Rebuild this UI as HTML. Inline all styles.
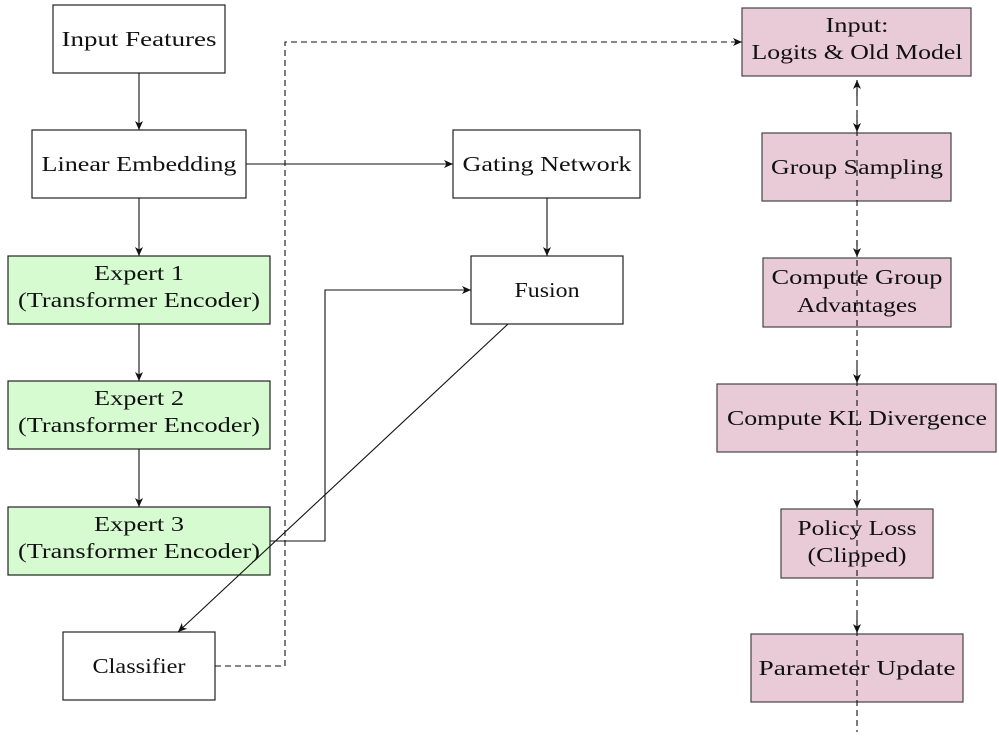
<!DOCTYPE html>
<html><head><style>
body{margin:0;background:#fff;}
svg text{font-family:"Liberation Serif",serif;font-size:21px;fill:#111;text-anchor:middle;}
</style></head><body>
<svg width="999" height="732" viewBox="0 0 999 732" xmlns="http://www.w3.org/2000/svg">
<defs>
<marker id="a" markerWidth="12" markerHeight="12" refX="10" refY="6" orient="auto" markerUnits="userSpaceOnUse">
<path d="M1,2 L10,6 L1,10 L3.5,6 Z" fill="#111"/></marker>
</defs>
<g stroke="#222" stroke-width="1.2" fill="#fff">
<rect x="53" y="5" width="172" height="68"/>
<rect x="32" y="130" width="214" height="68"/>
<rect x="8" y="256" width="262" height="68" fill="#d6fbd0"/>
<rect x="8" y="381" width="262" height="68" fill="#d6fbd0"/>
<rect x="8" y="507" width="262" height="68" fill="#d6fbd0"/>
<rect x="63" y="632" width="152" height="68"/>
<rect x="453" y="130" width="187" height="68"/>
<rect x="471" y="256" width="152" height="68"/>
<g fill="#e8cbd7" stroke="#444">
<rect x="742" y="8" width="229" height="68"/>
<rect x="762" y="133" width="189" height="68"/>
<rect x="763" y="258" width="188" height="69"/>
<rect x="717" y="384" width="279" height="68"/>
<rect x="781" y="509" width="152" height="69"/>
<rect x="751" y="634" width="212" height="68"/>
</g>
</g>
<g stroke="#111" stroke-width="1.1" fill="none">
<line x1="139" y1="73" x2="139" y2="130" marker-end="url(#a)"/>
<line x1="139" y1="198" x2="139" y2="256" marker-end="url(#a)"/>
<line x1="139" y1="324" x2="139" y2="381" marker-end="url(#a)"/>
<line x1="139" y1="449" x2="139" y2="507" marker-end="url(#a)"/>
<line x1="246" y1="164" x2="453" y2="164" marker-end="url(#a)"/>
<line x1="547" y1="198" x2="547" y2="256" marker-end="url(#a)"/>
<polyline points="270,541 325,541 325,290 471,290" marker-end="url(#a)"/>
<line x1="508" y1="324" x2="178" y2="632" marker-end="url(#a)"/>
<polyline points="215,666 285,666 285,42 742,42" stroke-dasharray="6,4" marker-end="url(#a)"/>
<line x1="857" y1="80" x2="857" y2="732" stroke-dasharray="6,4"/>
<line x1="857" y1="100" x2="857" y2="80" marker-end="url(#a)"/>
<line x1="857" y1="115" x2="857" y2="132" marker-end="url(#a)"/>
<line x1="857" y1="240" x2="857" y2="257" marker-end="url(#a)"/>
<line x1="857" y1="366" x2="857" y2="383" marker-end="url(#a)"/>
<line x1="857" y1="491" x2="857" y2="508" marker-end="url(#a)"/>
<line x1="857" y1="616" x2="857" y2="633" marker-end="url(#a)"/>
</g>
<g lengthAdjust="spacingAndGlyphs">
<text x="139" y="46" textLength="155" lengthAdjust="spacingAndGlyphs">Input Features</text>
<text x="139" y="171" textLength="195" lengthAdjust="spacingAndGlyphs">Linear Embedding</text>
<text x="139" y="280" textLength="90" lengthAdjust="spacingAndGlyphs">Expert 1</text><text x="139" y="307" textLength="242" lengthAdjust="spacingAndGlyphs">(Transformer Encoder)</text>
<text x="139" y="405" textLength="90" lengthAdjust="spacingAndGlyphs">Expert 2</text><text x="139" y="432" textLength="242" lengthAdjust="spacingAndGlyphs">(Transformer Encoder)</text>
<text x="139" y="531" textLength="90" lengthAdjust="spacingAndGlyphs">Expert 3</text><text x="139" y="558" textLength="242" lengthAdjust="spacingAndGlyphs">(Transformer Encoder)</text>
<text x="139" y="673" textLength="93" lengthAdjust="spacingAndGlyphs">Classifier</text>
<text x="547" y="171" textLength="169" lengthAdjust="spacingAndGlyphs">Gating Network</text>
<text x="547" y="297" textLength="65" lengthAdjust="spacingAndGlyphs">Fusion</text>
<text x="857" y="32" textLength="63" lengthAdjust="spacingAndGlyphs">Input:</text><text x="857" y="59" textLength="211" lengthAdjust="spacingAndGlyphs">Logits &amp; Old Model</text>
<text x="857" y="174" textLength="172" lengthAdjust="spacingAndGlyphs">Group Sampling</text>
<text x="857" y="284" textLength="171" lengthAdjust="spacingAndGlyphs">Compute Group</text><text x="857" y="312" textLength="120" lengthAdjust="spacingAndGlyphs">Advantages</text>
<text x="857" y="425" textLength="260" lengthAdjust="spacingAndGlyphs">Compute KL Divergence</text>
<text x="857" y="535" textLength="119" lengthAdjust="spacingAndGlyphs">Policy Loss</text><text x="857" y="562" textLength="99" lengthAdjust="spacingAndGlyphs">(Clipped)</text>
<text x="857" y="675" textLength="197" lengthAdjust="spacingAndGlyphs">Parameter Update</text>
</g>
</svg>
</body></html>
